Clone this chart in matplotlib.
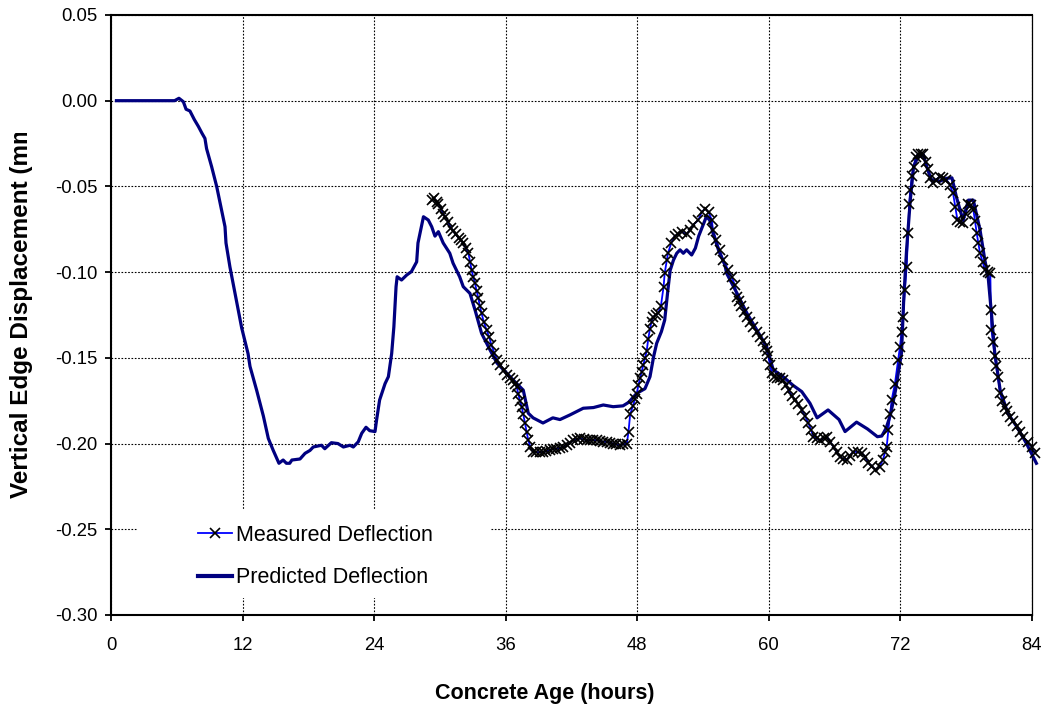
import matplotlib
matplotlib.use("Agg")
import matplotlib.pyplot as plt
from matplotlib.lines import Line2D
from matplotlib.patches import Rectangle
from matplotlib.transforms import Bbox, TransformedBbox

plt.rcParams['font.family'] = ['Liberation Sans', 'DejaVu Sans']

# predicted deflection (hours, mm)
pred_hours = [0.5, 5.8, 6.2, 6.6, 6.85, 7.2, 7.6, 7.97, 8.3, 8.57, 8.72, 9.18, 9.64, 10.0,
              10.4, 10.49, 10.85, 11.3, 11.92, 12.5, 12.68, 13.29, 13.9, 14.35, 14.8, 15.32,
              15.7, 16.0, 16.3, 16.5, 17.24, 17.7, 18.15, 18.45, 19.2, 19.5, 20.1, 20.7,
              21.2, 21.8, 22.1, 22.55, 22.87, 23.26, 23.6, 24.08, 24.23, 24.5, 25.0, 25.3,
              25.6, 25.8, 26.0, 26.1, 26.5, 26.97, 27.4, 27.88, 28.0, 28.5, 28.94, 29.25,
              29.55, 29.86, 30.3, 30.9, 31.2, 31.8, 32.13, 32.74, 33.2, 33.8, 34.57, 35.2,
              36.1, 37.0, 37.6, 38.06, 38.5, 39.4, 40.3, 40.95, 41.86, 43.07, 44.0, 44.9,
              45.8, 46.7, 47.2, 47.95, 48.7, 49.16, 49.5, 49.77, 50.2, 50.5, 50.8, 51.0,
              51.3, 51.6, 51.9, 52.2, 52.5, 52.96, 53.3, 53.6, 54.0, 54.3, 54.6, 54.9,
              55.4, 56.0, 56.15, 57.1, 58.0, 58.9, 59.8, 60.4, 61.3, 62.2, 63.0, 63.75,
              64.4, 65.4, 66.4, 66.95, 68.0, 69.0, 69.9, 70.3, 70.7, 71.1, 71.55, 72.1,
              72.3, 72.56, 72.9, 73.2, 73.6, 74.1, 74.4, 74.8, 75.6, 76.2, 76.7, 77.1,
              77.7, 78.2, 78.65, 79.26, 79.7, 80.0, 80.3, 80.6, 81.1, 81.8, 82.6, 83.5, 84.4]
pred_values = [0.0, 0.0, 0.0014, -0.0006, -0.005, -0.006, -0.011, -0.015, -0.019, -0.022,
               -0.028, -0.0385, -0.050, -0.061, -0.0735, -0.083, -0.097, -0.112, -0.1325,
               -0.1475, -0.155, -0.169, -0.184, -0.197, -0.204, -0.2115, -0.2096, -0.2115,
               -0.2115, -0.2096, -0.209, -0.2057, -0.204, -0.202, -0.201, -0.203, -0.1995,
               -0.200, -0.202, -0.201, -0.202, -0.199, -0.194, -0.1905, -0.1925, -0.193,
               -0.186, -0.1746, -0.165, -0.161, -0.1475, -0.132, -0.1085, -0.1027, -0.1046,
               -0.1017, -0.0997, -0.094, -0.083, -0.0677, -0.0696, -0.0735, -0.079, -0.0764,
               -0.083, -0.089, -0.0948, -0.1027, -0.1085, -0.1124, -0.122, -0.1357, -0.1454,
               -0.153, -0.159, -0.165, -0.1688, -0.1823, -0.185, -0.188, -0.185, -0.186,
               -0.1833, -0.1794, -0.179, -0.1775, -0.1785, -0.178, -0.176, -0.1707, -0.168,
               -0.161, -0.149, -0.1415, -0.1347, -0.128, -0.110, -0.099, -0.093, -0.089,
               -0.087, -0.089, -0.087, -0.090, -0.086, -0.079, -0.0725, -0.0677, -0.0696,
               -0.077, -0.087, -0.096, -0.1007, -0.1124, -0.124, -0.1337, -0.1435, -0.157,
               -0.161, -0.166, -0.1697, -0.1765, -0.185, -0.1804, -0.186, -0.193, -0.1875,
               -0.1915, -0.196, -0.1956, -0.191, -0.183, -0.169, -0.147, -0.116, -0.087,
               -0.058, -0.0385, -0.0327, -0.0317, -0.0385, -0.046, -0.047, -0.0453, -0.045,
               -0.056, -0.0696, -0.058, -0.058, -0.0754, -0.093, -0.1027, -0.124, -0.147,
               -0.169, -0.1824, -0.190, -0.200, -0.2115]

# measured deflection (hours, mm)
meas_hours = [29.3, 29.5, 29.7, 29.85, 30.1, 30.3, 30.5, 30.76, 31.0, 31.2, 31.45, 31.7,
              31.9, 32.1, 32.35, 32.6, 32.75, 32.9, 33.05, 33.2, 33.35, 33.5, 33.65, 33.8,
              34.0, 34.27, 34.5, 34.7, 34.95, 35.2, 35.5, 35.8, 36.1, 36.4, 36.65, 36.85,
              37.0, 37.15, 37.3, 37.46, 37.6, 37.76, 37.9, 38.06, 38.25, 38.5, 38.8, 39.1,
              39.4, 39.7, 40.0, 40.3, 40.6, 40.95, 41.25, 41.56, 41.85, 42.17, 42.5, 42.8,
              43.1, 43.4, 43.7, 44.0, 44.3, 44.6, 44.9, 45.2, 45.5, 45.8, 46.1, 46.4, 46.7,
              47.05, 47.2, 47.35, 47.6, 47.8, 47.95, 48.1, 48.25, 48.4, 48.55, 48.7, 48.86,
              49.0, 49.16, 49.3, 49.46, 49.7, 49.9, 50.15, 50.4, 50.5, 50.7, 50.8, 51.1,
              51.4, 51.7, 52.05, 52.5, 52.8, 53.1, 53.57, 53.9, 54.2, 54.5, 54.8, 54.9,
              55.2, 55.5, 55.85, 56.3, 56.6, 56.9, 57.07, 57.3, 57.5, 57.75, 58.0, 58.3,
              58.6, 58.9, 59.2, 59.45, 59.65, 59.8, 59.95, 60.1, 60.26, 60.5, 60.7, 61.0,
              61.3, 61.55, 61.8, 62.1, 62.4, 62.7, 63.0, 63.3, 63.6, 63.85, 64.06, 64.35,
              64.67, 65.0, 65.3, 65.6, 65.9, 66.2, 66.5, 66.8, 67.1, 67.4, 67.7, 68.1,
              68.5, 68.8, 69.07, 69.4, 69.7, 70.1, 70.4, 70.6, 70.75, 70.9, 71.05, 71.2,
              71.5, 71.8, 71.96, 72.1, 72.26, 72.4, 72.57, 72.7, 72.8, 72.9, 73.05, 73.2,
              73.4, 73.6, 73.85, 74.1, 74.3, 74.5, 74.7, 74.95, 75.25, 75.6, 75.9, 76.2,
              76.5, 76.8, 77.0, 77.2, 77.45, 77.7, 77.95, 78.2, 78.45, 78.65, 78.8, 78.96,
              79.1, 79.26, 79.5, 79.7, 79.95, 80.2, 80.25, 80.3, 80.45, 80.6, 80.75, 80.9,
              81.1, 81.3, 81.5, 81.75, 82.0, 82.3, 82.6, 82.9, 83.2, 83.6, 83.97, 84.27]
meas_values = [-0.058, -0.057, -0.059, -0.060, -0.063, -0.066, -0.068, -0.071, -0.074,
               -0.076, -0.078, -0.080, -0.081, -0.083, -0.086, -0.089, -0.094, -0.099,
               -0.103, -0.1065, -0.111, -0.115, -0.120, -0.124, -0.129, -0.134, -0.138,
               -0.1425, -0.147, -0.151, -0.154, -0.157, -0.160, -0.162, -0.163, -0.165,
               -0.167, -0.171, -0.175, -0.1785, -0.183, -0.188, -0.193, -0.198, -0.202,
               -0.205, -0.205, -0.205, -0.205, -0.2045, -0.204, -0.203, -0.203, -0.2025,
               -0.202, -0.201, -0.1995, -0.198, -0.1975, -0.197, -0.1975, -0.198, -0.198,
               -0.198, -0.198, -0.1985, -0.199, -0.199, -0.1995, -0.200, -0.2005, -0.201,
               -0.2005, -0.200, -0.193, -0.183, -0.178, -0.174, -0.171, -0.166, -0.162,
               -0.158, -0.154, -0.150, -0.146, -0.139, -0.133, -0.129, -0.126, -0.125,
               -0.124, -0.120, -0.1085, -0.1007, -0.093, -0.089, -0.083, -0.079, -0.078,
               -0.0764, -0.078, -0.0754, -0.0725, -0.0696, -0.0647, -0.063, -0.065, -0.0696,
               -0.0754, -0.0813, -0.087, -0.093, -0.099, -0.1027, -0.1075, -0.1143, -0.117,
               -0.120, -0.123, -0.126, -0.129, -0.132, -0.135, -0.1377, -0.140, -0.1435,
               -0.146, -0.149, -0.154, -0.159, -0.161, -0.162, -0.162, -0.163, -0.166,
               -0.169, -0.172, -0.1746, -0.177, -0.1804, -0.184, -0.188, -0.192, -0.196,
               -0.197, -0.198, -0.197, -0.196, -0.199, -0.202, -0.205, -0.2077, -0.209,
               -0.2096, -0.207, -0.2047, -0.205, -0.2057, -0.208, -0.2115, -0.213, -0.2154,
               -0.2134, -0.2096, -0.205, -0.2018, -0.192, -0.183, -0.1746, -0.165, -0.151,
               -0.1435, -0.135, -0.126, -0.1104, -0.0968, -0.0774, -0.060, -0.052, -0.044,
               -0.0385, -0.033, -0.031, -0.031, -0.031, -0.036, -0.040, -0.045, -0.048,
               -0.046, -0.0443, -0.045, -0.046, -0.049, -0.054, -0.062, -0.0696, -0.071,
               -0.0716, -0.066, -0.060, -0.061, -0.0637, -0.070, -0.0774, -0.083, -0.089,
               -0.094, -0.0988, -0.100, -0.1007, -0.122, -0.1337, -0.141, -0.149, -0.155,
               -0.161, -0.1707, -0.175, -0.1785, -0.181, -0.1843, -0.187, -0.190, -0.193,
               -0.196, -0.199, -0.2018, -0.2057]

x_ticks = [0, 12, 24, 36, 48, 60, 72, 84]
y_ticks = [0.05, 0.00, -0.05, -0.10, -0.15, -0.20, -0.25, -0.30]

fig = plt.figure(figsize=(10.42, 7.06), dpi=100)
ax = fig.add_axes([0.1065, 0.1289, 0.8839, 0.8499])

ax.plot(meas_hours, meas_values, color='#0000FF', lw=1.3, zorder=2, clip_on=False)
ax.plot(pred_hours, pred_values, color='#000080', lw=2.3, zorder=3, clip_on=False)
ax.plot(meas_hours, meas_values, ls='none', marker='x', ms=6.5, mew=1.2,
        color='black', zorder=4, clip_on=False)

ax.set_xlim(0, 84)
ax.set_ylim(-0.30, 0.05)
ax.set_xticks(x_ticks)
ax.set_yticks(y_ticks)
ax.set_yticklabels([f'{v:.2f}' for v in y_ticks])
ax.tick_params(direction='out', length=4.5, width=1.3, labelsize=13.3)
ax.tick_params(axis='y', pad=5)
ax.tick_params(axis='x', pad=11.5)
ax.set_axisbelow(True)
ax.grid(True, color='black', lw=0.8, linestyle=(0, (1.5, 1.5)))

for side in ['left', 'bottom', 'top']:
    ax.spines[side].set_linewidth(1.5)
ax.spines['right'].set_linewidth(0.9)

ax.set_xlabel('Concrete Age (hours)', fontsize=15.5, fontweight='bold')
ax.xaxis.set_label_coords(0.471, -0.1133)

ylab = fig.text(22 / 1042, 1 - 498 / 706, 'Vertical Edge Displacement (mm)',
                rotation=90, ha='center', va='bottom', fontsize=17.5, fontweight='bold')
ylab.set_clip_box(TransformedBbox(Bbox([[0, 0], [1, 1 - 133 / 706]]), fig.transFigure))
ylab.set_clip_on(True)

# white legend area hiding the grid
ax.add_patch(Rectangle((0.0293, 0.0283), 0.382, 0.1467, transform=ax.transAxes,
                       facecolor='white', edgecolor='none', zorder=1))

handles = [Line2D([], [], color='#0000FF', lw=1.3, marker='x', ms=6.5, mew=1.2,
                  mec='black'),
           Line2D([], [], color='#000080', lw=3)]
ax.legend(handles, ['Measured Deflection', 'Predicted Deflection'], loc='upper left',
          bbox_to_anchor=(0.0945, 0.150), frameon=False, fontsize=15.5, borderpad=0,
          borderaxespad=0, handlelength=1.6, handletextpad=0.15, labelspacing=0.98,
          numpoints=1)

fig.savefig('out.png', dpi=100)
